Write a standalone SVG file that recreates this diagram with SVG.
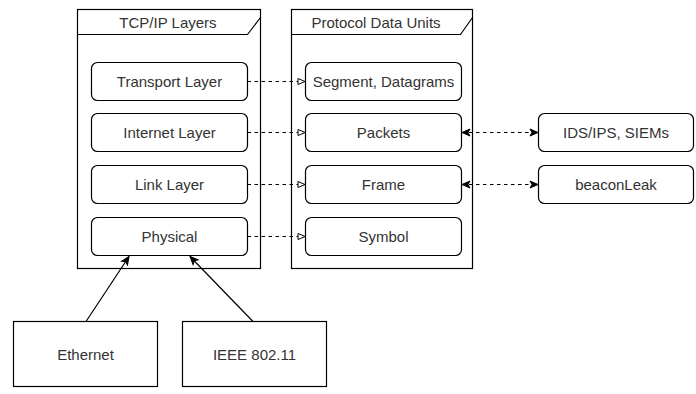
<svg xmlns="http://www.w3.org/2000/svg" width="696" height="394" viewBox="0 0 696 394">
<style>
.frame{fill:#fff;stroke:#000;stroke-width:1.2}
.box{fill:#fff;stroke:#000;stroke-width:1.2}
text{font-family:"Liberation Sans",Arial,sans-serif;font-size:15px;fill:#333;text-anchor:middle;dominant-baseline:central}
.dash{fill:none;stroke:#000;stroke-width:1.2;stroke-dasharray:3.5 3.5}
.solid{fill:none;stroke:#000;stroke-width:1.2}
</style>
<defs>
<marker id="open" markerWidth="10" markerHeight="8" refX="8" refY="4" orient="auto" markerUnits="userSpaceOnUse">
<path d="M1,1 L8,4 L1,7 Z" fill="#fff" stroke="#000" stroke-width="1"/>
</marker>
<marker id="classic" markerWidth="10" markerHeight="10" refX="9" refY="5" orient="auto-start-reverse" markerUnits="userSpaceOnUse">
<path d="M1,1.5 L9,5 L1,8.5 L3,5 Z" fill="#000" stroke="#000" stroke-width="1"/>
</marker>
</defs>
<g id="frame-tcpip">
<rect class="frame" x="77.5" y="9.5" width="183" height="259"/>
<path class="solid" d="M77.5,34.5 H247.5 L260.5,17.5"/>
<text x="168" y="22">TCP/IP Layers</text>
</g>
<g id="frame-pdu">
<rect class="frame" x="291.5" y="9.5" width="181" height="259"/>
<path class="solid" d="M291.5,34.5 H460.5 L472.5,17.5"/>
<text x="376" y="22">Protocol Data Units</text>
</g>
<g id="transport"><rect class="box" x="91.5" y="62.5" width="156" height="38" rx="6"/><text x="169.5" y="81.5">Transport Layer</text></g>
<g id="internet"><rect class="box" x="91.5" y="113.5" width="156" height="38" rx="6"/><text x="169.5" y="132.5">Internet Layer</text></g>
<g id="link"><rect class="box" x="91.5" y="165.5" width="156" height="38" rx="6"/><text x="169.5" y="184.5">Link Layer</text></g>
<g id="physical"><rect class="box" x="91.5" y="217.5" width="156" height="38" rx="6"/><text x="169.5" y="236.5">Physical</text></g>
<g id="segment"><rect class="box" x="305.5" y="62.5" width="156" height="38" rx="6"/><text x="383.5" y="81.5">Segment, Datagrams</text></g>
<g id="packets"><rect class="box" x="305.5" y="113.5" width="156" height="38" rx="6"/><text x="383.5" y="132.5">Packets</text></g>
<g id="frame"><rect class="box" x="305.5" y="165.5" width="156" height="38" rx="6"/><text x="383.5" y="184.5">Frame</text></g>
<g id="symbol"><rect class="box" x="305.5" y="217.5" width="156" height="38" rx="6"/><text x="383.5" y="236.5">Symbol</text></g>
<g id="ids"><rect class="box" x="538.5" y="113.5" width="155" height="38" rx="6"/><text x="616" y="132.5">IDS/IPS, SIEMs</text></g>
<g id="beacon"><rect class="box" x="538.5" y="165.5" width="155" height="38" rx="6"/><text x="616" y="184.5">beaconLeak</text></g>
<g id="ethernet"><rect class="box" x="13.5" y="321.5" width="144" height="65"/><text x="85.5" y="354">Ethernet</text></g>
<g id="ieee"><rect class="box" x="182.5" y="321.5" width="144" height="65"/><text x="254.5" y="354">IEEE 802.11</text></g>
<g id="connectors">
<path class="dash" d="M247.5,81.5 H305" marker-end="url(#open)"/>
<path class="dash" d="M247.5,132.5 H305" marker-end="url(#open)"/>
<path class="dash" d="M247.5,184.5 H305" marker-end="url(#open)"/>
<path class="dash" d="M247.5,236.5 H305" marker-end="url(#open)"/>
<path class="dash" d="M462,132.5 H538" marker-start="url(#classic)" marker-end="url(#classic)"/>
<path class="dash" d="M462,184.5 H538" marker-start="url(#classic)" marker-end="url(#classic)"/>
<path class="solid" d="M86,321.5 L129,256.5" marker-end="url(#classic)"/>
<path class="solid" d="M253,321.5 L190,256.5" marker-end="url(#classic)"/>
</g>
</svg>
